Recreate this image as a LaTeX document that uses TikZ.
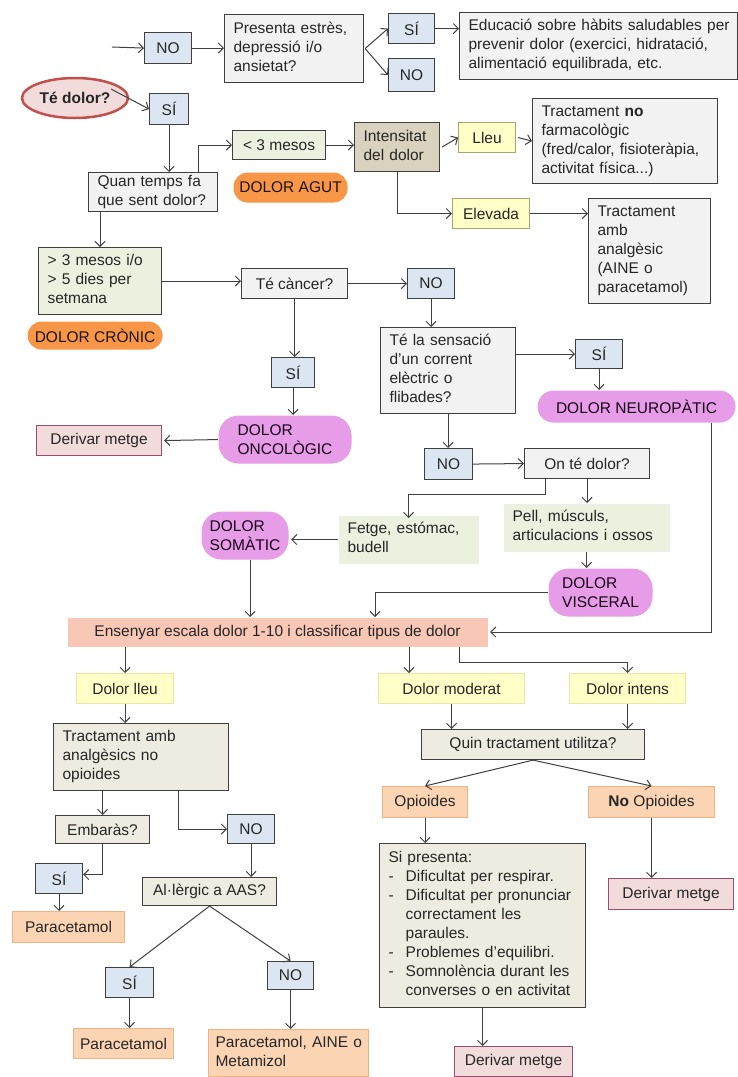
\documentclass[tikz,border=0pt]{standalone}
\usepackage{fontspec}
\setmainfont{Liberation Sans}
\usetikzlibrary{arrows.meta,shapes.geometric,calc}
\definecolor{bord}{HTML}{3F3F3F}
\definecolor{lin}{HTML}{404040}
\definecolor{txt}{HTML}{262626}
\definecolor{cgray}{HTML}{F2F2F2}
\definecolor{cblue}{HTML}{DCE6F2}
\definecolor{cgreen}{HTML}{EBF1DE}
\definecolor{ctan}{HTML}{EEECE1}
\definecolor{ctandark}{HTML}{D8D2BE}
\definecolor{cyellow}{HTML}{FFFFC8}
\definecolor{cyelbord}{HTML}{A6A670}
\definecolor{cyellight}{HTML}{EDE3A5}
\definecolor{corange}{HTML}{F79646}
\definecolor{cviolet}{HTML}{E69CE6}
\definecolor{cpinkfill}{HTML}{F2DCDB}
\definecolor{cpinkbord}{HTML}{994D73}
\definecolor{csalmon}{HTML}{F9C7B6}
\definecolor{cpeach}{HTML}{FBD4B4}
\definecolor{cpeachbord}{HTML}{F2B382}
\definecolor{cred}{HTML}{C0504D}
\newcommand\fs{\fontsize{15.5}{19}\selectfont}
\newcommand\ls[1]{\begin{tabular}{@{}l@{}}#1\end{tabular}}
\tikzset{
  base/.style={anchor=north west, inner sep=0pt, font=\fs, text=txt, line width=1.1pt, align=center},
  lft/.style={text width=#1, align=left, inner xsep=9pt},
  graybox/.style={base, draw=bord, fill=cgray},
  bluebox/.style={base, draw=bord, fill=cblue},
  greenbox/.style={base, draw=bord, fill=cgreen},
  greenplain/.style={base, fill=cgreen},
  tanbox/.style={base, draw=bord, fill=ctan},
  tandark/.style={base, draw=bord, fill=ctandark},
  yelbox/.style={base, draw=cyelbord, fill=cyellow},
  yellight/.style={base, draw=cyellight, fill=cyellow},
  orangepill/.style={base, fill=corange, rounded corners=14pt, text=black!85!brown},
  violetpill/.style={base, fill=cviolet, rounded corners=20pt, text=black!80!violet, align=left},
  pinkbox/.style={base, draw=cpinkbord, fill=cpinkfill},
  salmonbox/.style={base, fill=csalmon},
  peachbox/.style={base, draw=cpeachbord, fill=cpeach},
  arr/.style={draw=lin, line width=1pt, -{Straight Barb[length=5pt,width=10pt]}},
}
\begin{document}
\begin{tikzpicture}[x=1pt,y=-1pt]
\useasboundingbox (0,0) rectangle (738,1077);
\fill[white] (0,0) rectangle (738,1077);

% top
\node[ellipse, draw=cred, line width=2.5pt, fill=cpinkfill, minimum width=106pt, minimum height=40pt, inner sep=0pt, font=\fs\bfseries, text=txt] (tedolor) at (75,98) {Té dolor?};
\node[bluebox, minimum width=47pt, minimum height=31pt] (no1) at (144,32) {NO};
\node[graybox, lft=121pt, minimum height=68pt] (presenta) at (224,14) {\ls{Presenta estrès,\\depressió i/o\\ansietat?}};
\node[bluebox, minimum width=46pt, minimum height=30pt] (si1) at (388,13) {SÍ};
\node[bluebox, minimum width=46pt, minimum height=33pt] (no2) at (388,58) {NO};
\node[graybox, lft=260pt, minimum height=67pt] (educacio) at (459,12) {\ls{Educació sobre hàbits saludables per\\prevenir dolor (exercici, hidratació,\\alimentació equilibrada,  etc.}};
\node[bluebox, minimum width=39pt, minimum height=31pt] (si2) at (149,93) {SÍ};
\node[graybox, lft=111pt, minimum height=39pt] (quan) at (88,172) {\ls{Quan temps fa\\que sent dolor?}};
\node[greenbox, minimum width=93pt, minimum height=29pt] (mesos3) at (232,130) {< 3 mesos};
\node[orangepill, minimum width=114pt, minimum height=30pt] (agut) at (233,172) {DOLOR AGUT};
\node[tandark, lft=67pt, minimum height=49pt] (intensitat) at (354,122) {\ls{Intensitat\\del dolor}};
\node[yelbox, minimum width=57pt, minimum height=30pt] (lleu) at (458,122) {Lleu};
\node[graybox, lft=167pt, minimum height=85pt] (tracno) at (532,98) {\ls{Tractament \textbf{no}\\farmacològic\\(fred/calor, fisioteràpia,\\activitat física...)}};
\node[yelbox, minimum width=77pt, minimum height=30pt] (elevada) at (452,198) {Elevada};
\node[graybox, lft=104pt, minimum height=105pt] (tracamb) at (588,198) {\ls{Tractament\\amb\\analgèsic\\(AINE  o\\paracetamol)}};

% chronic
\node[greenbox, lft=105pt, minimum height=67pt] (mesosmes) at (38,247) {\ls{> 3 mesos i/o\\> 5 dies per\\setmana}};
\node[orangepill, minimum width=135pt, minimum height=28pt] (cronic) at (27,321) {DOLOR CRÒNIC};
\node[graybox, minimum width=106pt, minimum height=30pt] (cancer) at (241,268) {Té càncer?};
\node[bluebox, minimum width=47pt, minimum height=30pt] (no3) at (407,268) {NO};
\node[bluebox, minimum width=43pt, minimum height=30pt] (si3) at (271,357) {SÍ};
\node[violetpill, minimum width=133pt, minimum height=48pt] (oncologic) at (218,415) {DOLOR\\ONCOLÒGIC};
\node[pinkbox, minimum width=125pt, minimum height=30pt] (derivar1) at (36,425) {Derivar metge};
\node[graybox, lft=117pt, minimum height=86pt] (sensacio) at (380,327) {\ls{Té la sensació\\d'un corrent\\elèctric o\\flibades?}};
\node[bluebox, minimum width=47pt, minimum height=29pt] (si4) at (575,339) {SÍ};
\node[violetpill, rounded corners=16pt, minimum width=198pt, minimum height=32pt] (neuro) at (537,390) {DOLOR NEUROPÀTIC};
\node[bluebox, minimum width=48pt, minimum height=31pt] (no4) at (424,448) {NO};
\node[graybox, minimum width=125pt, minimum height=30pt] (ontedolor) at (524,448) {On té dolor?};
\node[greenplain, lft=122pt, minimum height=48pt] (fetge) at (338,515) {\ls{Fetge, estómac,\\budell}};
\node[greenplain, lft=148pt, minimum height=48pt] (pell) at (503,503) {\ls{Pell, músculs,\\articulacions i ossos}};
\node[violetpill, minimum width=87pt, minimum height=48pt] (somatic) at (201,511) {DOLOR\\SOMÀTIC};
\node[violetpill, minimum width=104pt, minimum height=48pt] (visceral) at (548,568) {DOLOR\\VISCERAL};
\node[salmonbox, minimum width=420pt, minimum height=29pt] (ensenyar) at (67,617) {Ensenyar escala dolor 1-10 i classificar tipus de dolor};

% lower
\node[yellight, minimum width=97pt, minimum height=30pt] (lleu2) at (76,673) {Dolor lleu};
\node[yellight, minimum width=146pt, minimum height=30pt] (moderat) at (378,673) {Dolor moderat};
\node[yellight, minimum width=116pt, minimum height=30pt] (intens) at (569,673) {Dolor intens};
\node[tanbox, lft=157pt, minimum height=67pt] (tracanalg) at (53,723) {\ls{Tractament amb\\analgèsics no\\opioides}};
\node[tanbox, minimum width=94pt, minimum height=28pt] (embaras) at (55,815) {Embaràs?};
\node[bluebox, minimum width=47pt, minimum height=29pt] (no5) at (227,814) {NO};
\node[bluebox, minimum width=47pt, minimum height=30pt] (si5) at (35,863) {SÍ};
\node[peachbox, minimum width=112pt, minimum height=31pt] (para1) at (12,911) {Paracetamol};
\node[tanbox, minimum width=134pt, minimum height=28pt] (allergic) at (142,877) {Al·lèrgic  a AAS?};
\node[bluebox, minimum width=48pt, minimum height=30pt] (si6) at (105,967) {SÍ};
\node[bluebox, minimum width=46pt, minimum height=28pt] (no6) at (267,961) {NO};
\node[peachbox, minimum width=100pt, minimum height=30pt] (para2) at (73,1028) {Paracetamol};
\node[peachbox, text width=146pt, align=left, inner xsep=7pt, minimum height=47pt] (para3) at (208,1029) {\ls{Paracetamol, AINE o\\Metamizol}};
\node[tanbox, minimum width=223pt, minimum height=30pt] (quin) at (421,729) {Quin tractament utilitza?};
\node[peachbox, minimum width=85pt, minimum height=31pt] (opioides) at (382,786) {Opioides};
\node[peachbox, minimum width=126pt, minimum height=31pt] (noopioides) at (588,786) {\textbf{No} Opioides};
\node[tanbox, lft=188pt, minimum height=164pt] (sipresenta) at (379,843) {%
\begin{tabular}{@{}l@{\hspace{12pt}}l@{}}
\multicolumn{2}{@{}l}{Si presenta:}\\
- & Dificultat per respirar.\\
- & Dificultat per pronunciar\\
  & correctament les\\
  & paraules.\\
- & Problemes d’equilibri.\\
- & Somnolència durant les\\
  & converses o en activitat
\end{tabular}};
\node[pinkbox, minimum width=125pt, minimum height=31pt] (derivar2) at (608,878) {Derivar metge};
\node[pinkbox, minimum width=118pt, minimum height=30pt] (derivar3) at (454,1046) {Derivar metge};

% connectors
\coordinate (nostart) at (112,47);
\coordinate (sistart) at (111,89);
\draw[arr] (nostart) -- (no1.west);
\draw[arr] (sistart) -- (si2.west);
\draw[arr] (no1.east) -- (presenta.west |- no1.east);
\draw[arr] ([xshift=1pt]presenta.east) -- (si1.west);
\draw[arr] ([xshift=1pt]presenta.east) -- (no2.west);
\draw[arr] (si1.east) -- (educacio.west |- si1.east);
\draw[arr] (si2.south) -- (si2.south |- quan.north);
\draw[arr] ([xshift=-20pt]quan.north east) |- (mesos3.west);
\draw[arr] (mesos3.east) -- (intensitat.west |- mesos3.east);
\draw[arr] ([xshift=2pt]intensitat.east) -- (lleu.west);
\draw[arr] ([xshift=2pt]lleu.east) -- (tracno.west);
\draw[arr] (intensitat.south) |- (elevada.west);
\draw[arr] (elevada.east) -- (tracamb.west |- elevada.east);
\draw[arr] ([xshift=12pt]quan.south west) -- ([xshift=12pt]quan.south west |- mesosmes.north);
\draw[arr] (mesosmes.east) -- (cancer.west |- mesosmes.east);
\draw[arr] (cancer.east) -- (no3.west);
\draw[arr] (cancer.south) -- (cancer.south |- si3.north);
\draw[arr] (si3.south) -- (si3.south |- oncologic.north);
\draw[arr] (oncologic.west) -- ([xshift=2pt]derivar1.east);
\draw[arr] (no3.south) -- (no3.south |- sensacio.north);
\draw[arr] (sensacio.east |- si4.west) -- (si4.west);
\draw[arr] (si4.south) -- (si4.south |- neuro.north);
\draw[arr] ([xshift=-25pt]neuro.south east) |- ([xshift=2pt]ensenyar.east);
\draw[arr] (sensacio.south) -- (sensacio.south |- no4.north);
\draw[arr] (no4.east) -- (ontedolor.west);
\draw[arr] (ontedolor.south) -- (ontedolor.south |- pell.north);
\draw[arr] ([xshift=-41.5pt]ontedolor.south) -- ++(0,15) -| ([yshift=-3pt]fetge.north);
\draw[arr] (fetge.west) -- ([xshift=2pt]somatic.east |- fetge.west);
\draw[arr] (pell.south) -- (pell.south |- visceral.north);
\draw[arr] (visceral.west) -| ([xshift=308pt]ensenyar.north west);
\draw[arr] ([xshift=5pt]somatic.south) -- ([xshift=5pt]somatic.south |- ensenyar.north);
\draw[arr] (lleu2.north |- ensenyar.south) -- (lleu2.north);
\draw[arr] ([xshift=342pt]ensenyar.south west) -- ([xshift=342pt]ensenyar.south west |- moderat.north);
\draw[arr] ([xshift=392pt]ensenyar.south west) -- ++(0,15) -| (intens.north);
\draw[arr] (lleu2.south) -- (lleu2.south |- tracanalg.north);
\draw[arr] (moderat.south) -- (moderat.south |- quin.north);
\draw[arr] (intens.south) -- (intens.south |- quin.north);
\draw[arr] (quin.south) -- (opioides.north);
\draw[arr] (quin.south) -- (noopioides.north);
\draw[arr] (opioides.south) -- (opioides.south |- sipresenta.north);
\draw[arr] (noopioides.south) -- (noopioides.south |- derivar2.north);
\draw[arr] (sipresenta.south) -- (sipresenta.south |- derivar3.north);
\draw[arr] (embaras.north |- tracanalg.south) -- (embaras.north);
\draw[arr] ([xshift=125pt]tracanalg.south west) |- (no5.west);
\draw[arr] (no5.south) -- (no5.south |- allergic.north);
\draw[arr] (embaras.south) |- ([yshift=4pt]si5.east);
\draw[arr] (si5.south) -- (si5.south |- para1.north);
\draw[arr] (allergic.south) -- (si6.north);
\draw[arr] (allergic.south) -- (no6.north);
\draw[arr] (si6.south) -- (si6.south |- para2.north);
\draw[arr] (no6.south) -- (no6.south |- para3.north);
\end{tikzpicture}
\end{document}
